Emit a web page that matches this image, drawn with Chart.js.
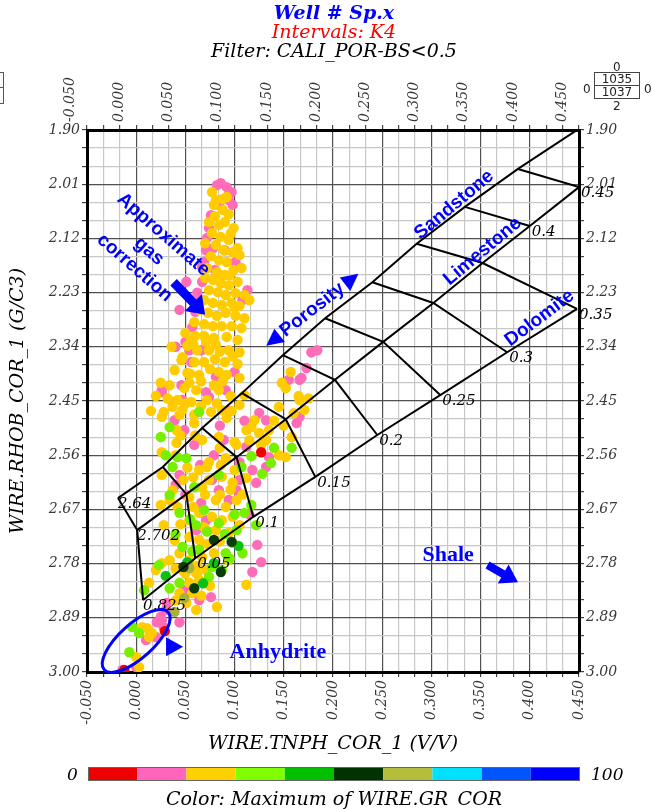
<!DOCTYPE html>
<html>
<head>
<meta charset="utf-8">
<script src="https://cdn.jsdelivr.net/npm/chart.js@4.4.1/dist/chart.umd.min.js"></script>
<style>
  body { margin: 0; background: #fff; }
  #wrap { position: relative; width: 652px; height: 809px; }
  #wrap canvas { position: absolute; left: 0; top: 0; }
  .ttl { position: absolute; left: 0; width: 668px; text-align: center; font-family: "DejaVu Serif", serif; font-style: italic; font-size: 19px; line-height: 20px; white-space: nowrap; }
  .lbl { position: absolute; font-family: "DejaVu Serif", serif; font-style: italic; font-size: 17px; line-height: 18px; white-space: nowrap; }
  .sm { position: absolute; font-family: "DejaVu Sans", sans-serif; font-size: 12px; line-height: 12px; color: #222; }
  #cnt { position: absolute; left: 594px; top: 72px; width: 44px; height: 25px; border: 1px solid #444; font-family: "DejaVu Sans", sans-serif; font-size: 12px; line-height: 12px; text-align: center; color: #222; }
  #cnt div { height: 12px; }
  #cnt div:first-child { border-bottom: 1px solid #444; }
  #frag { position: absolute; left: -6px; top: 72px; width: 8px; height: 15px; border: 1px solid #555; border-bottom: none; }
  #frag2 { position: absolute; left: -6px; top: 87px; width: 8px; height: 15px; border: 1px solid #555; }
</style>
</head>
<body>
<div id="wrap">
  <canvas id="chart" width="652" height="809"></canvas>
  <div class="ttl" style="top:2px;color:#0000ff;font-weight:bold;">Well # Sp.x</div>
  <div class="ttl" style="top:21px;color:#ff0000;">Intervals: K4</div>
  <div class="ttl" style="top:40px;color:#000;">Filter: CALI_POR-BS&lt;0.5</div>
  <div class="sm" style="left:613px;top:61px;">0</div>
  <div class="sm" style="left:583px;top:83px;">0</div>
  <div class="sm" style="left:644px;top:83px;">0</div>
  <div id="cnt"><div>1035</div><div>1037</div></div>
  <div class="sm" style="left:613px;top:100px;">2</div>
  <div id="frag"></div><div id="frag2"></div>
  <div class="lbl" style="left:67px;top:765px;">0</div>
  <div class="lbl" style="left:591px;top:765px;">100</div>
  <div class="ttl" style="top:788px;">Color: Maximum of WIRE.GR_COR</div>
</div>
<script>
// axes
const X_MIN = -0.05, X_MAX = 0.45;
const Y_MIN = 1.90, Y_MAX = 3.00;
const SUB = 3;
const xTickLabels = ['-0.050', '0.000', '0.050', '0.100', '0.150', '0.200', '0.250', '0.300', '0.350', '0.400', '0.450'];
const yTickLabels = ['1.90', '2.01', '2.12', '2.23', '2.34', '2.45', '2.56', '2.67', '2.78', '2.89', '3.00'];

// colour scale of GR
const colorBarColors = ['#ee0000', '#ff66bb', '#ffd000', '#80ff00', '#00c000', '#003300', '#b5bd3c', '#00e0ff', '#0055ff', '#0000ff'];

// lithology lines (neutron, density), porosity 0 .. 0.45
const porosityLabels = ['', '0.05', '0.1', '0.15', '0.2', '0.25', '0.3', '0.35', '0.4', '0.45'];
const matrixLabels = ['2.64', '2.702', '0.825'];
const sandstonePts = [[-0.0185, 2.647], [0.027, 2.584], [0.067, 2.505], [0.1075, 2.434], [0.149, 2.357], [0.192, 2.282], [0.240, 2.209], [0.285, 2.131], [0.334, 2.056], [0.388, 1.979], [0.451, 1.896]];
const limestonePts = [[0.001, 2.712], [0.051, 2.639], [0.102, 2.564], [0.152, 2.487], [0.202, 2.407], [0.251, 2.330], [0.302, 2.251], [0.352, 2.170], [0.400, 2.095], [0.450, 2.016]];
const dolomitePts = [[0.007, 2.854], [0.060, 2.769], [0.119, 2.685], [0.182, 2.604], [0.245, 2.519], [0.309, 2.438], [0.377, 2.351], [0.448, 2.263]];

// samples, grouped by GR colour class
const pinkPts = [[0.082,2.012],[0.086,2.008],[0.092,2.016],[0.097,2.026],[0.094,2.042],[0.098,2.052],[0.084,2.052],[0.076,2.073],[0.074,2.099],[0.072,2.119],[0.078,2.140],[0.069,2.168],[0.080,2.184],[0.067,2.208],[0.065,2.245],[0.060,2.269],[0.113,2.225],[0.094,2.032],[0.101,2.168],[0.090,2.144],[0.044,2.265],[0.071,2.144],[0.067,2.178],[0.051,2.208],[0.066,2.347],[0.081,2.401],[0.091,2.428],[0.054,2.347],[0.026,2.428],[0.046,2.418],[0.026,2.432],[0.037,2.452],[0.047,2.448],[0.071,2.432],[0.074,2.442],[0.100,2.391],[0.056,2.371],[0.155,2.407],[0.166,2.407],[0.178,2.351],[0.173,2.383],[0.125,2.474],[0.132,2.489],[0.163,2.495],[0.166,2.482],[0.112,2.543],[0.135,2.564],[0.118,2.590],[0.132,2.584],[0.184,2.347],[0.168,2.403],[0.077,2.610],[0.127,2.777],[0.118,2.797],[0.076,2.848],[0.030,2.874],[0.044,2.899],[0.026,2.895],[0.020,2.929],[0.010,2.935],[0.025,2.888],[-0.014,2.996],[0.031,2.860],[0.066,2.657],[0.071,2.692],[0.061,2.712],[0.084,2.631],[0.102,2.631],[0.122,2.616],[0.021,2.899],[0.028,2.909],[0.000,2.990],[0.049,2.509],[0.059,2.539],[0.079,2.560],[0.089,2.529],[0.039,2.489],[0.105,2.574],[0.044,2.600],[0.094,2.651],[0.123,2.742],[0.049,2.834],[0.064,2.854],[0.057,2.300],[0.050,2.330],[0.040,2.340],[0.108,2.245],[0.062,2.230],[0.095,2.470],[0.110,2.490],[0.085,2.500],[0.105,2.610],[0.065,2.580],[0.050,2.640],[0.115,2.680],[0.040,2.620]];
const yellowPts = [[0.077,2.026],[0.081,2.042],[0.092,2.036],[0.088,2.062],[0.080,2.075],[0.094,2.071],[0.074,2.087],[0.084,2.093],[0.090,2.087],[0.099,2.099],[0.077,2.109],[0.086,2.117],[0.094,2.123],[0.081,2.133],[0.089,2.144],[0.098,2.148],[0.105,2.154],[0.076,2.156],[0.084,2.164],[0.092,2.168],[0.072,2.180],[0.082,2.188],[0.090,2.194],[0.099,2.184],[0.107,2.180],[0.078,2.204],[0.086,2.211],[0.094,2.215],[0.103,2.208],[0.074,2.225],[0.083,2.229],[0.091,2.235],[0.101,2.231],[0.110,2.235],[0.069,2.245],[0.078,2.251],[0.087,2.255],[0.097,2.251],[0.105,2.257],[0.115,2.245],[0.064,2.265],[0.073,2.271],[0.082,2.277],[0.091,2.271],[0.101,2.277],[0.110,2.282],[0.059,2.290],[0.069,2.294],[0.078,2.298],[0.087,2.298],[0.097,2.298],[0.107,2.302],[0.050,2.312],[0.060,2.318],[0.069,2.318],[0.079,2.322],[0.092,2.320],[0.103,2.326],[0.052,2.338],[0.062,2.347],[0.074,2.347],[0.094,2.347],[0.105,2.351],[0.046,2.367],[0.059,2.371],[0.069,2.371],[0.090,2.371],[0.103,2.375],[0.039,2.387],[0.052,2.393],[0.064,2.397],[0.092,2.397],[0.105,2.403],[0.034,2.418],[0.049,2.424],[0.061,2.428],[0.079,2.418],[0.110,2.438],[0.042,2.448],[0.056,2.452],[0.072,2.448],[0.105,2.458],[0.028,2.472],[0.044,2.478],[0.059,2.478],[0.076,2.472],[0.092,2.484],[0.036,2.340],[0.056,2.326],[0.071,2.330],[0.081,2.336],[0.047,2.361],[0.084,2.391],[0.054,2.413],[0.025,2.413],[0.084,2.428],[0.037,2.462],[0.047,2.468],[0.087,2.468],[0.026,2.482],[0.059,2.495],[0.041,2.509],[0.067,2.529],[0.084,2.523],[0.100,2.533],[0.026,2.554],[0.041,2.535],[0.074,2.574],[0.091,2.566],[0.072,2.584],[0.148,2.413],[0.157,2.391],[0.152,2.424],[0.145,2.462],[0.166,2.448],[0.171,2.468],[0.117,2.503],[0.112,2.509],[0.132,2.529],[0.158,2.523],[0.152,2.564],[0.102,2.539],[0.120,2.489],[0.135,2.509],[0.145,2.560],[0.127,2.539],[0.026,2.600],[0.037,2.631],[0.025,2.661],[0.042,2.665],[0.054,2.645],[0.067,2.625],[0.074,2.610],[0.087,2.604],[0.098,2.616],[0.112,2.606],[0.081,2.651],[0.091,2.665],[0.102,2.651],[0.064,2.677],[0.077,2.685],[0.087,2.692],[0.098,2.685],[0.069,2.706],[0.081,2.712],[0.094,2.718],[0.054,2.726],[0.064,2.732],[0.034,2.773],[0.044,2.759],[0.054,2.773],[0.067,2.767],[0.047,2.793],[0.061,2.799],[0.071,2.793],[0.054,2.819],[0.064,2.813],[0.044,2.840],[0.057,2.840],[0.051,2.860],[0.061,2.874],[0.082,2.868],[0.112,2.823],[0.013,2.819],[0.020,2.793],[0.026,2.779],[0.006,2.909],[0.016,2.921],[0.000,2.970],[0.003,2.990],[0.011,2.911],[0.013,2.929],[0.086,2.580],[0.100,2.590],[0.064,2.590],[0.034,2.651],[0.028,2.702],[0.039,2.732],[0.105,2.702],[0.079,2.759],[0.094,2.773],[0.054,2.692],[0.079,2.052],[0.088,2.040],[0.070,2.130],[0.096,2.110],[0.103,2.140],[0.085,2.205],[0.070,2.200],[0.095,2.195],[0.100,2.260],[0.058,2.335],[0.085,2.350],[0.098,2.360],[0.080,2.365],[0.075,2.385],[0.088,2.410],[0.096,2.440],[0.066,2.410],[0.055,2.395],[0.082,2.455],[0.097,2.470],[0.066,2.460],[0.050,2.455],[0.032,2.445],[0.020,2.440],[0.015,2.470],[0.040,2.560],[0.052,2.585],[0.058,2.605],[0.048,2.610],[0.085,2.545],[0.060,2.520],[0.045,2.520],[0.070,2.640],[0.058,2.665],[0.085,2.640],[0.096,2.630],[0.108,2.640],[0.045,2.700],[0.072,2.740],[0.085,2.735],[0.040,2.790],[0.050,2.800],[0.062,2.785],[0.075,2.825],[0.066,2.845],[0.040,2.855],[0.115,2.530],[0.140,2.490],[0.125,2.515],[0.160,2.475],[0.150,2.500],[0.175,2.445],[0.165,2.440]];
const limePts = [[0.064,2.472],[0.034,2.503],[0.025,2.523],[0.042,2.564],[0.051,2.566],[0.037,2.584],[0.117,2.562],[0.158,2.545],[0.137,2.576],[0.084,2.600],[0.107,2.584],[0.034,2.641],[0.059,2.625],[0.044,2.677],[0.069,2.671],[0.110,2.677],[0.122,2.702],[0.061,2.702],[0.084,2.698],[0.098,2.738],[0.047,2.746],[0.064,2.752],[0.091,2.759],[0.077,2.787],[0.087,2.793],[0.108,2.759],[0.023,2.783],[0.034,2.830],[0.044,2.819],[0.008,2.834],[0.074,2.807],[-0.007,2.960],[-0.004,2.909],[0.003,2.921],[0.117,2.661],[0.102,2.712],[0.030,2.560],[0.055,2.690],[0.072,2.715],[0.040,2.720],[0.095,2.770],[0.057,2.755],[0.100,2.680],[0.090,2.720],[0.140,2.545],[0.128,2.598]];
const greenPts = [[0.052,2.777],[0.079,2.779],[0.104,2.744],[0.030,2.805],[0.068,2.820]];
const darkGreenPts = [[0.079,2.732],[0.097,2.736],[0.048,2.787],[0.059,2.830],[0.086,2.797]];
const olivePts = [[0.054,2.789],[0.039,2.878],[0.049,2.850]];
const redPts = [[0.127,2.554],[0.029,2.917],[-0.012,2.996]];

const toXY = arr => arr.map(p => ({ x: p[0], y: p[1] }));

function pointSet(label, pts, color, order) {
  return { label: label, data: toXY(pts), backgroundColor: color, borderWidth: 0, pointRadius: 5.2, order: order };
}
function lineSet(pts) {
  return { data: toXY(pts), showLine: true, borderColor: '#000', borderWidth: 2, pointRadius: 0, fill: false, order: 0 };
}

const datasets = [lineSet(sandstonePts), lineSet(limestonePts), lineSet(dolomitePts)];
const ties = [];
for (let i = 0; i < porosityLabels.length; i++) {
  const tie = [sandstonePts[i], limestonePts[i]];
  if (dolomitePts[i]) tie.push(dolomitePts[i]);
  ties.push(tie);
  datasets.push(lineSet(tie));
}
datasets.push(
  pointSet('red', redPts, colorBarColors[0], 1),
  pointSet('dark green', darkGreenPts, '#0b3d0b', 2),
  pointSet('olive', olivePts, '#a9b13c', 3),
  pointSet('green', greenPts, '#10c010', 4),
  pointSet('lime', limePts, '#77f000', 5),
  pointSet('yellow', yellowPts, '#ffcc00', 6),
  pointSet('pink', pinkPts, '#ff6cb8', 7)
);

const tickFont = { family: 'DejaVu Serif', style: 'italic', size: 14 };
const titleFont = { family: 'DejaVu Serif', style: 'italic', size: 19 };

function fixedTicks(min, max, labels) {
  return function (scale) {
    const n = (labels.length - 1) * SUB;
    scale.ticks = [];
    for (let i = 0; i <= n; i++) scale.ticks.push({ value: min + (max - min) * i / n });
  };
}
const gridColor = ctx => ctx.index % SUB === 0 ? '#505050' : '#c8c8c8';

function xAxis(position, main, size) {
  return {
    type: 'linear', position: position, min: X_MIN, max: X_MAX,
    afterBuildTicks: fixedTicks(X_MIN, X_MAX, xTickLabels),
    afterFit: s => { s.height = size; },
    ticks: { autoSkip: false, minRotation: 90, maxRotation: 90, padding: 3, color: '#383838', font: tickFont,
      callback: (v, i) => i % SUB === 0 ? xTickLabels[i / SUB] : '' },
    grid: { drawOnChartArea: main, color: gridColor, tickColor: '#444', tickLength: 5, lineWidth: 1.2 },
    border: { display: true, color: '#000', width: 3 },
    title: main ? { display: true, text: 'WIRE.TNPH_COR_1 (V/V)', color: '#000', font: titleFont, padding: { top: 0, bottom: 54 } } : { display: false }
  };
}
function yAxis(position, main, size) {
  return {
    type: 'linear', position: position, min: Y_MIN, max: Y_MAX, reverse: true,
    afterBuildTicks: fixedTicks(Y_MIN, Y_MAX, yTickLabels),
    afterFit: s => { s.width = size; },
    ticks: { autoSkip: false, padding: 2, color: '#383838', font: tickFont,
      callback: (v, i) => i % SUB === 0 ? yTickLabels[i / SUB] : '' },
    grid: { drawOnChartArea: main, color: gridColor, tickColor: '#444', tickLength: 5, lineWidth: 1.2 },
    border: { display: true, color: '#000', width: 3 },
    title: main ? { display: true, text: 'WIRE.RHOB_COR_1 (G/C3)', color: '#000', font: titleFont, padding: { top: 7, bottom: 0 } } : { display: false }
  };
}

// blue hand annotations, placed in data units
const BLUE = '#0000ff';
const notes = [
  { text: ['Sandstone'], x: 0.323, y: 2.052, angle: -40 },
  { text: ['Limestone'], x: 0.352, y: 2.146, angle: -40 },
  { text: ['Dolomite'], x: 0.410, y: 2.282, angle: -37 },
  { text: ['Porosity'], x: 0.179, y: 2.265, angle: -38, heads: 50 },
  { text: ['Approximate', 'gas', 'correction'], x: 0.013, y: 2.146, angle: 41 }
];

function drawArrow(ctx, x1, y1, x2, y2, shaft, headW, headL) {
  const a = Math.atan2(y2 - y1, x2 - x1), len = Math.hypot(x2 - x1, y2 - y1);
  ctx.save();
  ctx.translate(x1, y1); ctx.rotate(a);
  ctx.beginPath();
  ctx.moveTo(0, -shaft / 2); ctx.lineTo(len - headL, -shaft / 2); ctx.lineTo(len - headL, -headW / 2);
  ctx.lineTo(len, 0); ctx.lineTo(len - headL, headW / 2); ctx.lineTo(len - headL, shaft / 2); ctx.lineTo(0, shaft / 2);
  ctx.closePath(); ctx.fill();
  ctx.restore();
}
function triangle(ctx, x, y, angle, len, w) {
  ctx.save();
  ctx.translate(x, y); ctx.rotate(angle);
  ctx.beginPath(); ctx.moveTo(len / 2, 0); ctx.lineTo(-len / 2, -w / 2); ctx.lineTo(-len / 2, w / 2); ctx.closePath(); ctx.fill();
  ctx.restore();
}

const overlay = {
  id: 'overlay',
  afterDatasetsDraw(chart) {
    const { ctx, chartArea: area, scales: { x, y } } = chart;
    const px = v => x.getPixelForValue(v), py = v => y.getPixelForValue(v);
    ctx.save();
    // matrix / porosity labels
    ctx.font = 'italic 15px "DejaVu Serif"';
    ctx.fillStyle = '#000'; ctx.textAlign = 'left'; ctx.textBaseline = 'middle';
    [sandstonePts[0], limestonePts[0], dolomitePts[0]].forEach((p, i) => ctx.fillText(matrixLabels[i], px(p[0]), py(p[1]) + 6));
    ties.forEach((t, i) => {
      if (!porosityLabels[i]) return;
      const p = t[t.length - 1];
      ctx.fillText(porosityLabels[i], px(p[0]) + 2, py(p[1]) + 6);
    });

    // rotated blue notes
    ctx.fillStyle = BLUE;
    ctx.font = 'bold 19px "Liberation Sans Narrow", "Liberation Sans", sans-serif';
    ctx.textAlign = 'center';
    notes.forEach(n => {
      ctx.save();
      ctx.translate(px(n.x), py(n.y));
      ctx.rotate(n.angle * Math.PI / 180);
      const off = (n.text.length - 1) / 2;
      n.text.forEach((t, i) => ctx.fillText(t, 0, (i - off) * 22));
      if (n.heads) {
        triangle(ctx, n.heads, 0, 0, 17, 17);
        triangle(ctx, -n.heads, 0, Math.PI, 17, 17);
      }
      ctx.restore();
    });

    // arrows
    drawArrow(ctx, px(0.038), py(2.209), px(0.070), py(2.275), 9, 24, 17);
    drawArrow(ctx, px(0.357), py(2.783), px(0.388), py(2.818), 8, 22, 17);
    triangle(ctx, px(0.039), py(2.949), 0, 17, 19);

    // anhydrite ellipse
    ctx.strokeStyle = BLUE; ctx.lineWidth = 3;
    ctx.beginPath();
    ctx.ellipse(px(0.000), py(2.937), 43, 17, -42 * Math.PI / 180, 0, Math.PI * 2);
    ctx.stroke();

    ctx.font = 'bold 22px "Liberation Serif", serif';
    ctx.textAlign = 'center';
    ctx.fillText('Shale', px(0.317), py(2.763));
    ctx.fillText('Anhydrite', px(0.144), py(2.960));

    // colour bar under the x axis
    const w = (area.right - area.left) / colorBarColors.length;
    colorBarColors.forEach((c, i) => {
      ctx.fillStyle = c;
      ctx.fillRect(area.left + 1 + i * w, 767, w, 14);
    });
    ctx.strokeStyle = '#666'; ctx.lineWidth = 1;
    ctx.strokeRect(area.left + 1.5, 767.5, area.right - area.left - 1, 13);
    ctx.restore();
  }
};

new Chart(document.getElementById('chart'), {
  type: 'scatter',
  data: { datasets: datasets },
  options: {
    responsive: false,
    animation: false,
    layout: { padding: 0 },
    plugins: { legend: { display: false }, tooltip: { enabled: false } },
    scales: {
      x: xAxis('bottom', true, 137),
      xTop: xAxis('top', false, 130),
      y: yAxis('left', true, 87),
      yRight: yAxis('right', false, 73)
    }
  },
  plugins: [overlay]
});
</script>
</body>
</html>
